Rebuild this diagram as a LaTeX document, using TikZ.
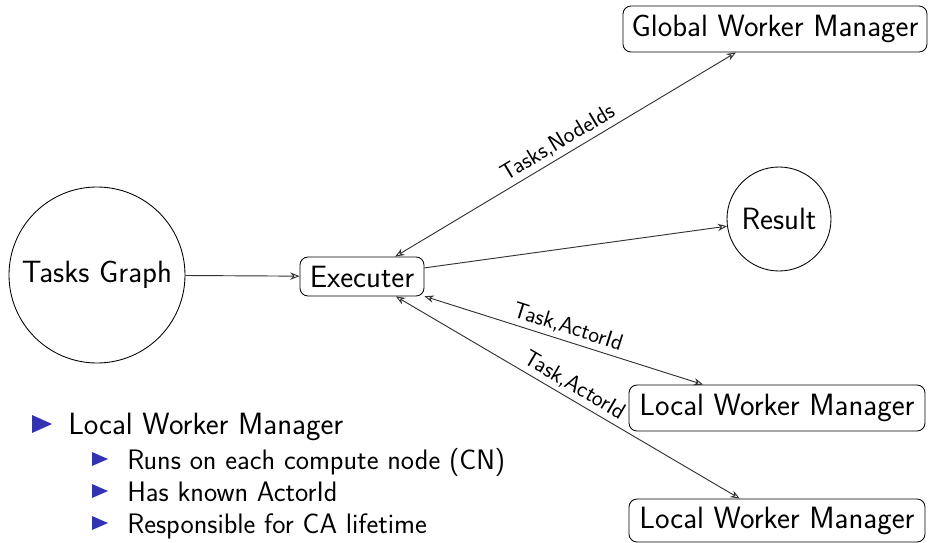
\documentclass[tikz,border=0pt]{standalone}
\usetikzlibrary{arrows.meta}
\definecolor{beamerblue}{RGB}{51,51,178}
\definecolor{edgegray}{RGB}{50,50,50}
\begin{document}
\begin{tikzpicture}[x=0.75pt,y=-0.75pt,
  font=\sffamily\fontsize{23.1}{27}\selectfont,
  box/.style={draw, rounded corners=6pt, line width=0.65pt, inner sep=0pt},
  circ/.style={draw, circle, line width=0.65pt, inner sep=0pt},
  conn/.style={draw=edgegray, line width=0.7pt, >={Stealth[open,length=7pt,width=5.5pt]}},
  lbl/.style={font=\sffamily\fontsize{17.2}{20}\selectfont, midway, above, sloped, inner sep=3pt},
  subtxt/.style={font=\sffamily\fontsize{21.1}{25}\selectfont, anchor=base west, inner sep=0pt},
  maintxt/.style={anchor=base west, inner sep=0pt}]
\useasboundingbox (0,0) rectangle (929,543);

\node[circ, minimum size=132pt] (tg) at (97,275) {Tasks Graph};
\node[box, minimum width=93pt, minimum height=29.25pt] (ex) at (362,276.5) {Executer};
\node[box, minimum width=228pt, minimum height=34.5pt] (gwm) at (775,29) {Global Worker Manager};
\node[circ, minimum size=78pt] (res) at (779,219) {Result};
\node[box, minimum width=222pt, minimum height=34.5pt] (lwm1) at (777,408) {Local Worker Manager};
\node[box, minimum width=222pt, minimum height=32.25pt] (lwm2) at (777,520.5) {Local Worker Manager};

\draw[conn,->] (tg) -- (ex);
\draw[conn,<->] (ex) -- node[lbl] {Tasks,NodeIds} (gwm);
\draw[conn,->] (ex) -- (res);
\draw[conn,<->] (ex) -- node[lbl] {Task,ActorId} (lwm1);
\draw[conn,<->] (ex) -- node[lbl] {Task,ActorId} (lwm2);

% bullet list
\fill[beamerblue] (32,415) -- (52,424) -- (32,433) -- cycle;
\node[maintxt] (b0) at (68,434) {Local Worker Manager};
\fill[beamerblue] (92,452) -- (108,459) -- (92,466) -- cycle;
\node[subtxt] (b1) at (127,469) {Runs on each compute node (CN)};
\fill[beamerblue] (92,484) -- (108,491) -- (92,498) -- cycle;
\node[subtxt] (b2) at (127,501) {Has known ActorId};
\fill[beamerblue] (92,516) -- (108,523) -- (92,530) -- cycle;
\node[subtxt] (b3) at (127,533) {Responsible for CA lifetime};
\end{tikzpicture}
\end{document}
